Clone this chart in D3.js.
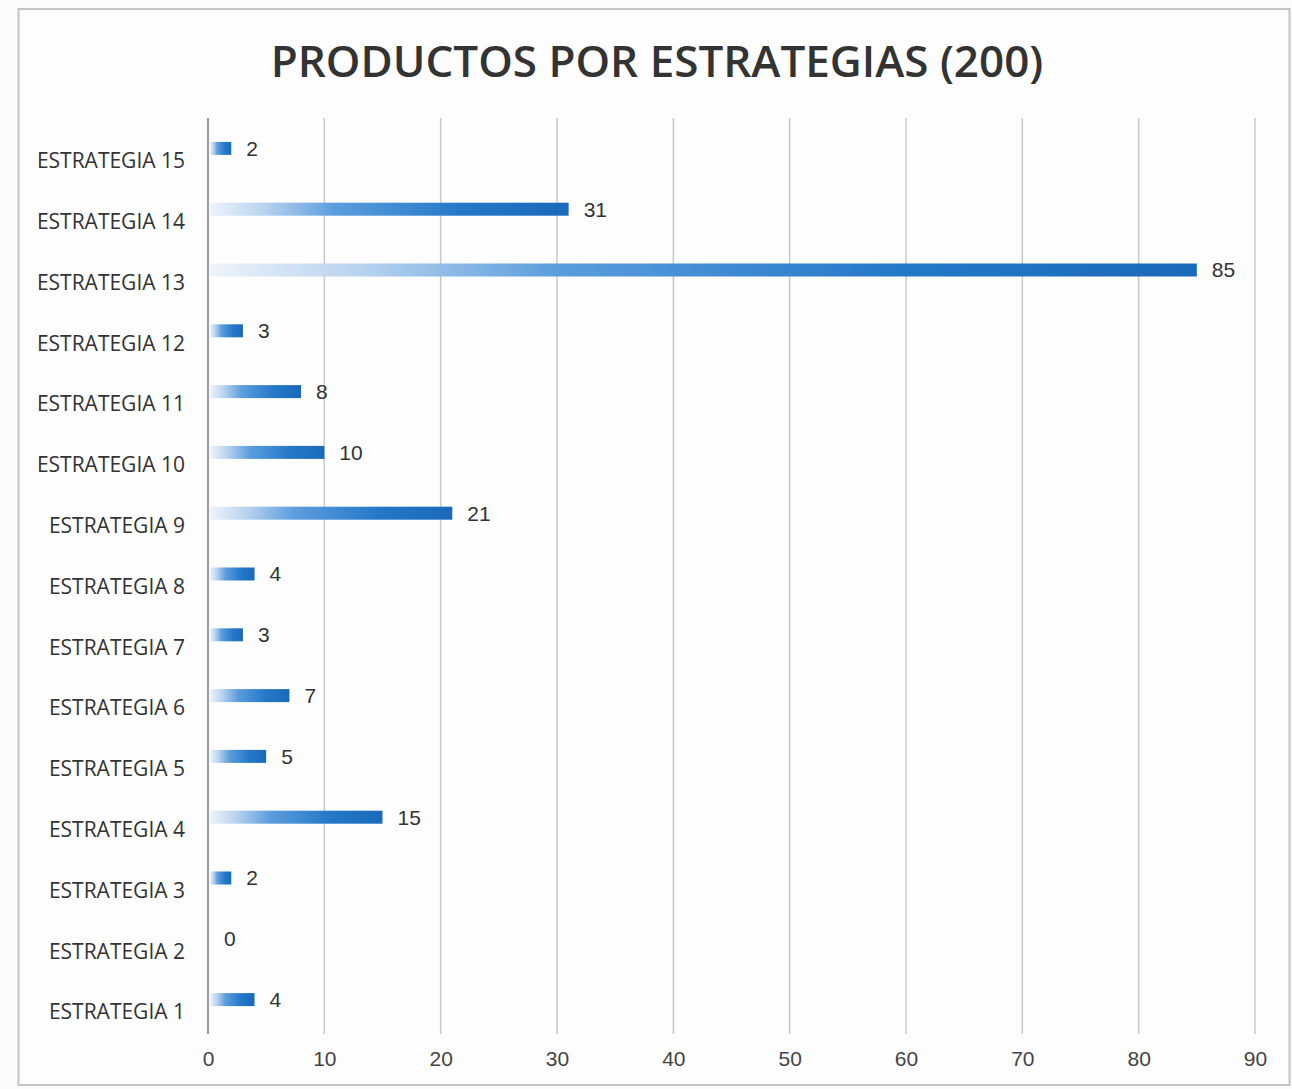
<!DOCTYPE html>
<html><head><meta charset="utf-8">
<script src="https://cdn.jsdelivr.net/npm/d3@7"></script>
<style>body{margin:0;background:#fff;}svg{display:block;}</style>
</head><body>
<script>
const categories = ["ESTRATEGIA 15","ESTRATEGIA 14","ESTRATEGIA 13","ESTRATEGIA 12","ESTRATEGIA 11","ESTRATEGIA 10","ESTRATEGIA 9","ESTRATEGIA 8","ESTRATEGIA 7","ESTRATEGIA 6","ESTRATEGIA 5","ESTRATEGIA 4","ESTRATEGIA 3","ESTRATEGIA 2","ESTRATEGIA 1"];
const values = [2,31,85,3,8,10,21,4,3,7,5,15,2,0,4];
const xTicks = [0,10,20,30,40,50,60,70,80,90];
const title = "PRODUCTOS POR ESTRATEGIAS (200)";

const W = 1292, H = 1089;
const svg = d3.select("body").append("svg").attr("width", W).attr("height", H);
const defs = svg.append("defs");
const grad = defs.append("linearGradient").attr("id","bargrad").attr("x1","0").attr("x2","1").attr("y1","0").attr("y2","0");
grad.append("stop").attr("offset","0").attr("stop-color","#eef3fa");
grad.append("stop").attr("offset","0.15").attr("stop-color","#b9d3ef");
grad.append("stop").attr("offset","0.35").attr("stop-color","#5b9ddd");
grad.append("stop").attr("offset","0.7").attr("stop-color","#2478c8");
grad.append("stop").attr("offset","1").attr("stop-color","#1a69bb");

svg.append("rect").attr("x",0).attr("y",0).attr("width",W).attr("height",H).attr("fill","#fbfbfc");
svg.append("rect").attr("x",18.5).attr("y",9).attr("width",1271).attr("height",1076).attr("fill","#fdfdfe").attr("stroke","#c4c4c4").attr("stroke-width",2);

svg.append("text").attr("x",657).attr("y",77).attr("text-anchor","middle")
  .attr("font-family","'Open Sans', 'Noto Sans', sans-serif").attr("font-weight",600)
  .attr("font-size",44).attr("fill","#333").text(title);

const x = d3.scaleLinear().domain([0,90]).range([208,1255]);
const y = d3.scaleBand().domain(categories).range([118,1030]).paddingInner(0.8).paddingOuter(0.4);
const plotTop = 118, plotBottom = 1034;

// gridlines
svg.append("g").selectAll("line").data(xTicks.slice(1)).join("line")
  .attr("x1",d=>x(d)).attr("x2",d=>x(d)).attr("y1",plotTop).attr("y2",plotBottom)
  .attr("stroke","#c8c8cc").attr("stroke-width",1.5);
// axis line
svg.append("line").attr("x1",x(0)).attr("x2",x(0)).attr("y1",plotTop).attr("y2",plotBottom)
  .attr("stroke","#9a9a9a").attr("stroke-width",2);

// x axis labels
const xAxis = d3.axisBottom(x).tickValues(xTicks).tickSize(0).tickPadding(0);
const gx = svg.append("g").attr("transform",`translate(0,${1051})`).call(xAxis);
gx.select(".domain").remove();
gx.selectAll("text").attr("font-family","'Liberation Sans', Arial, sans-serif").attr("font-size",21).attr("fill","#444").attr("dy","0.71em");

// bars
const bh = 13;
svg.append("g").selectAll("rect").data(values).join("rect")
  .attr("x",x(0)+2).attr("y",(d,i)=>y(categories[i])+y.bandwidth()/2-bh/2)
  .attr("width",d=>Math.max(0,x(d)-x(0)-2)).attr("height",bh)
  .attr("fill","url(#bargrad)");

// value labels
svg.append("g").selectAll("text").data(values).join("text")
  .attr("x",d=>x(d)+(d===0?16:15)).attr("y",(d,i)=>y(categories[i])+y.bandwidth()/2)
  .attr("dy","0.35em")
  .attr("font-family","'Liberation Sans', Arial, sans-serif").attr("font-size",21).attr("fill","#333")
  .text(d=>d);

// category labels
const yAxis = d3.axisLeft(y).tickSize(0).tickPadding(0);
const gy = svg.append("g").attr("transform",`translate(185,13)`).call(yAxis);
gy.select(".domain").remove();
gy.selectAll("text").attr("font-family","'Open Sans', 'Noto Sans', sans-serif").attr("font-size",21).attr("fill","#333");
</script>
</body></html>
